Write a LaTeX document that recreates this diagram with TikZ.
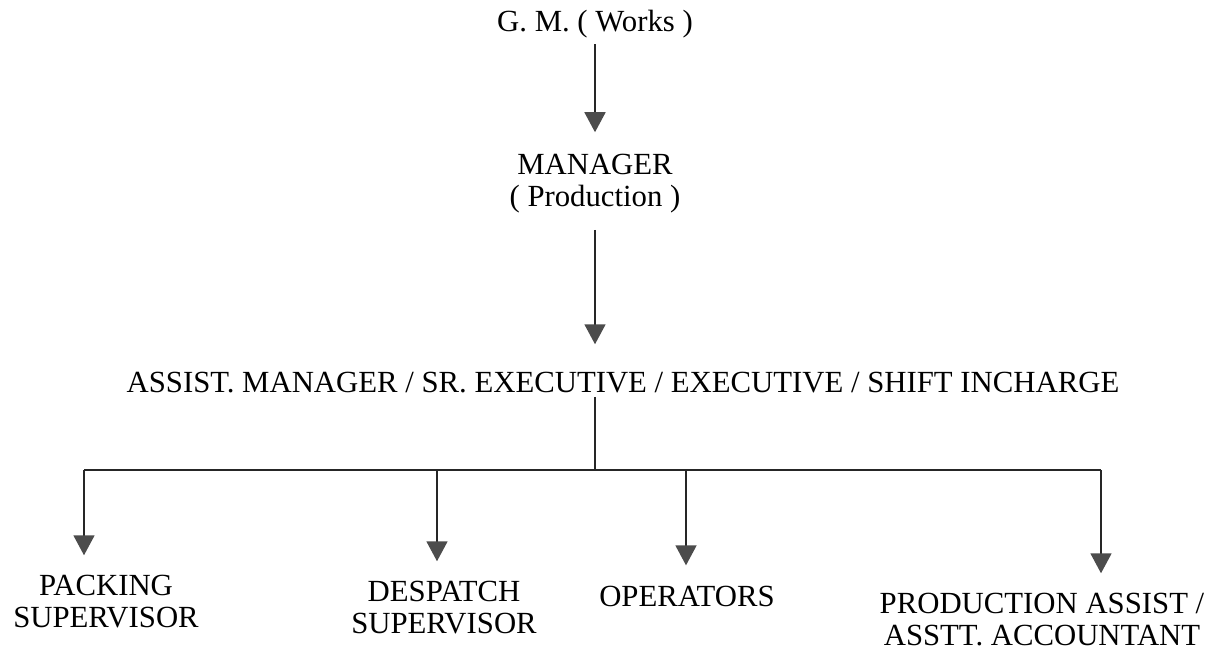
\documentclass[tikz,border=0pt]{standalone}
\usepackage{fontspec}
\setmainfont{Liberation Serif}
\usetikzlibrary{arrows.meta,positioning}

\begin{document}
\begin{tikzpicture}[x=0.02cm, y=-0.02cm,
  lbl/.style={align=center, inner sep=0pt, font=\fontsize{17.5}{18.2}\selectfont},
  wire/.style={line width=1pt, black!85},
  tip/.style={wire, -{Triangle[width=0.42cm, length=0.4cm, color=black!70]}}]
  \useasboundingbox (0,0) rectangle (1222,653);
  % chain of command
  \node[lbl] (gm) at (595,24) {G. M. ( Works )};
  \node[lbl] (mgr) at (595,184) {MANAGER\\( Production )};
  \node[lbl] (asm) at (623,383) {ASSIST. MANAGER / SR. EXECUTIVE / EXECUTIVE / SHIFT INCHARGE};
  \node[lbl] (pk) at (106,602) {PACKING\\SUPERVISOR};
  \node[lbl] (dsp) at (444,608) {DESPATCH\\SUPERVISOR};
  \node[lbl] (opr) at (687,596) {OPERATORS};
  \node[lbl] (pra) at (1042,620) {PRODUCTION ASSIST /\\ASSTT. ACCOUNTANT};
  \draw[tip, shorten <=0.12cm, shorten >=0.44cm] (gm) -- (mgr);
  \draw[tip, shorten <=0.32cm, shorten >=0.56cm] (mgr) -- (mgr |- asm.north);
  % bus to the staff
  \coordinate (bus) at (595,470);
  \coordinate (d1) at (84,470);
  \coordinate (d2) at (437,470);
  \coordinate (d3) at (686,470);
  \coordinate (d4) at (1101,470);
  \draw[wire, shorten <=0.06cm] (asm.south -| bus) -- (bus);
  \draw[wire] (d1) -- (d4);
  \foreach \d/\n in {d1/pk, d2/dsp, d3/opr, d4/pra}
    \draw[tip, shorten >=0.4cm] (\d) -- (\d |- \n.north);
\end{tikzpicture}
\end{document}
